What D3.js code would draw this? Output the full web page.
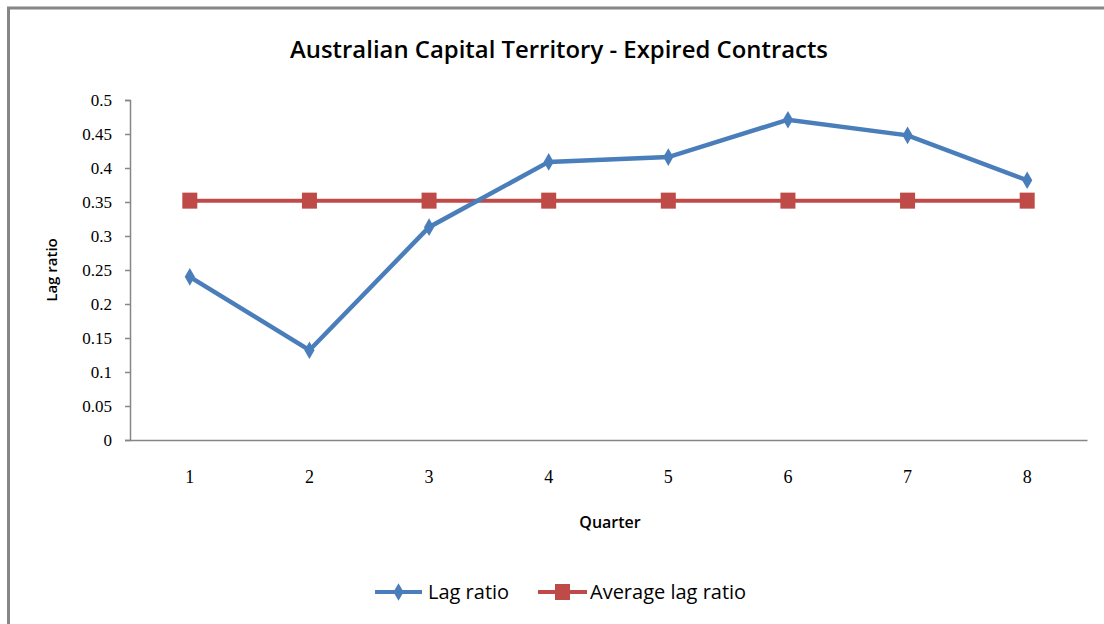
<!DOCTYPE html>
<html>
<head>
<meta charset="utf-8">
<script src="https://cdn.jsdelivr.net/npm/d3@7"></script>
<style>
  body { margin: 0; background: #fff; }
  svg { display: block; }
</style>
</head>
<body>
<div id="chart"></div>
<script>
// data
var quarters = ["1", "2", "3", "4", "5", "6", "7", "8"];
var lagRatio = [0.240, 0.132, 0.313, 0.409, 0.416, 0.471, 0.448, 0.382];
var avgLagRatio = [0.352, 0.352, 0.352, 0.352, 0.352, 0.352, 0.352, 0.352];
var yTicks = [0, 0.05, 0.1, 0.15, 0.2, 0.25, 0.3, 0.35, 0.4, 0.45, 0.5];

var W = 1104, H = 624;
var margin = { top: 100, right: 17, bottom: 184, left: 130 },
    width = W - margin.left - margin.right,
    height = H - margin.top - margin.bottom;

var blue = "#4a7ebb", red = "#be4b48", axisGrey = "#868686";

var root = d3.select("#chart")
    .append("svg")
    .attr("width", W)
    .attr("height", H);

// outer chart border (only left and top edges fall inside the picture)
root.append("path")
    .attr("d", "M8.5,624 V8 H1104")
    .attr("fill", "none")
    .attr("stroke", axisGrey)
    .attr("stroke-width", 3);

// title
root.append("text")
    .attr("x", 559)
    .attr("y", 58)
    .attr("text-anchor", "middle")
    .attr("textLength", 538)
    .attr("lengthAdjust", "spacingAndGlyphs")
    .style("font-family", "'Open Sans', sans-serif")
    .style("font-size", "24px")
    .style("font-weight", "600")
    .style("fill", "#000")
    .text("Australian Capital Territory - Expired Contracts");

var svg = root.append("g")
    .attr("transform", "translate(" + margin.left + "," + margin.top + ")");

var x = d3.scaleBand()
    .domain(quarters)
    .range([0, width]);

var y = d3.scaleLinear()
    .domain([0, 0.5])
    .range([height, 0]);

// Y axis
var yAxis = svg.append("g")
    .call(d3.axisLeft(y).tickValues(yTicks).tickSize(5).tickPadding(13)
        .tickFormat(function (d) { return String(+d.toFixed(2)); }));
yAxis.select(".domain").attr("stroke", axisGrey).attr("stroke-width", 1.5);
yAxis.selectAll(".tick line").attr("stroke", axisGrey).attr("stroke-width", 1.5);
yAxis.selectAll(".tick text")
    .style("font-family", "'Liberation Serif', serif")
    .style("font-size", "17px")
    .style("fill", "#000");

// X axis
var xAxis = svg.append("g")
    .attr("transform", "translate(0," + height + ")")
    .call(d3.axisBottom(x).tickSize(0).tickPadding(30));
xAxis.select(".domain").attr("stroke", axisGrey).attr("stroke-width", 1.5);
xAxis.selectAll(".tick text")
    .style("font-family", "'Liberation Serif', serif")
    .style("font-size", "18px")
    .style("fill", "#000");

// axis titles
root.append("text")
    .attr("x", 610)
    .attr("y", 528)
    .attr("text-anchor", "middle")
    .style("font-family", "'Open Sans', sans-serif")
    .style("font-size", "16px")
    .style("font-weight", "600")
    .text("Quarter");

root.append("text")
    .attr("transform", "translate(57,270) rotate(-90)")
    .attr("text-anchor", "middle")
    .style("font-family", "'Open Sans', sans-serif")
    .style("font-size", "15px")
    .style("font-weight", "600")
    .text("Lag ratio");

var cx = function (i) { return x(quarters[i]) + x.bandwidth() / 2; };

var line = d3.line()
    .x(function (d, i) { return cx(i); })
    .y(function (d) { return y(d); });

// average lag ratio series
svg.append("path")
    .datum(avgLagRatio)
    .attr("d", line)
    .attr("fill", "none")
    .attr("stroke", red)
    .attr("stroke-width", 4);

svg.selectAll(".sq")
    .data(avgLagRatio)
    .enter()
    .append("rect")
    .attr("x", function (d, i) { return cx(i) - 7.5; })
    .attr("y", function (d) { return y(d) - 8; })
    .attr("width", 15)
    .attr("height", 16)
    .attr("fill", red);

// lag ratio series
svg.append("path")
    .datum(lagRatio)
    .attr("d", line)
    .attr("fill", "none")
    .attr("stroke", blue)
    .attr("stroke-width", 4.5);

var diamond = d3.symbol().type(d3.symbolDiamond).size(90);
svg.selectAll(".dm")
    .data(lagRatio)
    .enter()
    .append("path")
    .attr("d", diamond)
    .attr("transform", function (d, i) { return "translate(" + cx(i) + "," + y(d) + ")"; })
    .attr("fill", blue);

// legend
var legend = root.append("g");
var items = [
    { name: "Lag ratio", color: blue, x1: 375, x2: 422, tx: 428, kind: "diamond" },
    { name: "Average lag ratio", color: red, x1: 538, x2: 587, tx: 590, kind: "square" }
];
items.forEach(function (it) {
    var ly = 592;
    legend.append("line")
        .attr("x1", it.x1).attr("x2", it.x2)
        .attr("y1", ly).attr("y2", ly)
        .attr("stroke", it.color)
        .attr("stroke-width", 4);
    var mx = (it.x1 + it.x2) / 2;
    if (it.kind === "diamond") {
        legend.append("path")
            .attr("d", diamond)
            .attr("transform", "translate(" + mx + "," + ly + ")")
            .attr("fill", it.color);
    } else {
        legend.append("rect")
            .attr("x", mx - 7.5).attr("y", ly - 8)
            .attr("width", 15).attr("height", 16)
            .attr("fill", it.color);
    }
    legend.append("text")
        .attr("x", it.tx)
        .attr("y", ly + 7)
        .style("font-family", "'Open Sans', sans-serif")
        .style("font-size", "20px")
        .style("fill", "#000")
        .text(it.name);
});
</script>
</body>
</html>
